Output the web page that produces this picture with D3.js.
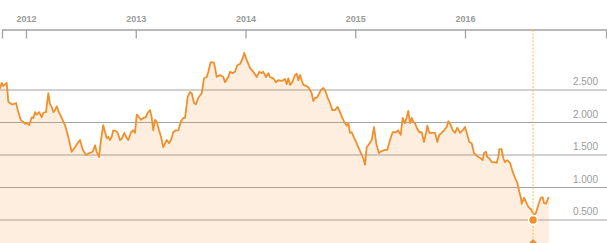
<!DOCTYPE html>
<html>
<head>
<meta charset="utf-8">
<script src="https://cdn.jsdelivr.net/npm/d3@7"></script>
<style>
  html, body { margin: 0; padding: 0; background: #fff; }
  #chart { width: 607px; height: 243px; overflow: hidden; }
</style>
</head>
<body>
<div id="chart"></div>
<script>
// time as decimal years
const years = [
  2011.763, 2011.779, 2011.793, 2011.809, 2011.824, 2011.839, 2011.870, 2011.884,
  2011.909, 2011.930, 2011.952, 2011.975, 2011.991, 2012.006, 2012.030, 2012.052,
  2012.067, 2012.082, 2012.097, 2012.121, 2012.143, 2012.158, 2012.182, 2012.203,
  2012.219, 2012.234, 2012.249, 2012.264, 2012.280, 2012.294, 2012.325, 2012.355,
  2012.385, 2012.416, 2012.446, 2012.477, 2012.492, 2012.517, 2012.547, 2012.577,
  2012.608, 2012.629, 2012.644, 2012.665, 2012.683, 2012.704, 2012.720, 2012.735,
  2012.750, 2012.765, 2012.781, 2012.795, 2012.817, 2012.836, 2012.856, 2012.872,
  2012.896, 2012.918, 2012.932, 2012.957, 2012.978, 2012.993, 2013.009, 2013.030,
  2013.048, 2013.069, 2013.091, 2013.109, 2013.130, 2013.145, 2013.160, 2013.175,
  2013.191, 2013.212, 2013.230, 2013.251, 2013.267, 2013.282, 2013.303, 2013.321,
  2013.342, 2013.364, 2013.388, 2013.412, 2013.433, 2013.449, 2013.473, 2013.494,
  2013.510, 2013.531, 2013.549, 2013.570, 2013.601, 2013.622, 2013.647, 2013.661,
  2013.683, 2013.713, 2013.738, 2013.768, 2013.798, 2013.813, 2013.843, 2013.859,
  2013.883, 2013.904, 2013.925, 2013.950, 2013.975, 2013.989, 2014.011, 2014.041,
  2014.071, 2014.102, 2014.126, 2014.148, 2014.162, 2014.187, 2014.208, 2014.223,
  2014.253, 2014.278, 2014.299, 2014.330, 2014.360, 2014.375, 2014.390, 2014.405,
  2014.426, 2014.451, 2014.467, 2014.481, 2014.497, 2014.512, 2014.527, 2014.558,
  2014.579, 2014.603, 2014.618, 2014.633, 2014.649, 2014.663, 2014.688, 2014.709,
  2014.724, 2014.749, 2014.770, 2014.791, 2014.815, 2014.840, 2014.861, 2014.882,
  2014.900, 2014.922, 2014.937, 2014.952, 2014.968, 2014.991, 2015.013, 2015.028,
  2015.052, 2015.073, 2015.089, 2015.104, 2015.119, 2015.150, 2015.171, 2015.192,
  2015.216, 2015.241, 2015.271, 2015.292, 2015.317, 2015.341, 2015.371, 2015.392,
  2015.414, 2015.432, 2015.453, 2015.469, 2015.483, 2015.499, 2015.514, 2015.529,
  2015.544, 2015.560, 2015.584, 2015.606, 2015.626, 2015.645, 2015.657, 2015.675,
  2015.697, 2015.727, 2015.748, 2015.766, 2015.788, 2015.809, 2015.833, 2015.848,
  2015.870, 2015.888, 2015.909, 2015.930, 2015.954, 2015.979, 2016.000, 2016.021,
  2016.039, 2016.061, 2016.082, 2016.100, 2016.121, 2016.143, 2016.161, 2016.173,
  2016.191, 2016.203, 2016.221, 2016.243, 2016.264, 2016.289, 2016.303, 2016.313,
  2016.334, 2016.349, 2016.364, 2016.385, 2016.410, 2016.435, 2016.456, 2016.477,
  2016.495, 2016.508, 2016.517, 2016.538, 2016.556, 2016.577, 2016.599, 2016.617,
  2016.629, 2016.647, 2016.668, 2016.690, 2016.708, 2016.720, 2016.738, 2016.759,
  2016.765
];

const values = [
  2.52, 2.61, 2.56, 2.59, 2.61, 2.32, 2.28, 2.28,
  2.30, 2.16, 2.04, 2.01, 1.98, 1.99, 1.96, 2.08,
  2.07, 2.16, 2.12, 2.16, 2.08, 2.15, 2.16, 2.45,
  2.28, 2.24, 2.16, 2.19, 2.25, 2.18, 2.07, 1.96,
  1.78, 1.55, 1.62, 1.70, 1.73, 1.58, 1.50, 1.53,
  1.55, 1.65, 1.55, 1.47, 1.73, 1.96, 1.85, 1.76,
  1.78, 1.73, 1.78, 1.88, 1.87, 1.84, 1.73, 1.75,
  1.84, 1.76, 1.73, 1.85, 1.88, 1.84, 2.12, 2.08,
  2.04, 2.07, 2.08, 2.15, 2.19, 2.08, 1.88, 2.04,
  2.01, 1.88, 1.78, 1.62, 1.68, 1.73, 1.68, 1.73,
  1.85, 1.88, 1.88, 2.02, 2.07, 2.07, 2.39, 2.47,
  2.45, 2.30, 2.28, 2.38, 2.45, 2.68, 2.70, 2.78,
  2.93, 2.92, 2.70, 2.73, 2.70, 2.62, 2.70, 2.78,
  2.76, 2.78, 2.88, 2.90, 2.99, 3.07, 2.96, 2.84,
  2.78, 2.70, 2.78, 2.76, 2.78, 2.70, 2.76, 2.70,
  2.68, 2.62, 2.65, 2.64, 2.67, 2.59, 2.68, 2.58,
  2.62, 2.73, 2.75, 2.65, 2.73, 2.65, 2.58, 2.56,
  2.53, 2.45, 2.33, 2.38, 2.38, 2.42, 2.50, 2.53,
  2.50, 2.38, 2.30, 2.19, 2.19, 2.24, 2.16, 2.07,
  2.01, 1.95, 1.99, 1.84, 1.85, 1.76, 1.68, 1.62,
  1.53, 1.45, 1.35, 1.62, 1.65, 1.73, 1.93, 1.67,
  1.53, 1.56, 1.58, 1.58, 1.73, 1.85, 1.85, 1.88,
  1.81, 2.07, 1.99, 2.08, 2.18, 1.99, 2.07, 2.01,
  1.99, 1.92, 1.85, 1.85, 1.70, 1.84, 1.95, 1.84,
  1.84, 1.84, 1.70, 1.81, 1.84, 1.88, 1.93, 2.02,
  1.96, 1.88, 1.84, 1.92, 1.84, 1.88, 1.93, 1.81,
  1.70, 1.68, 1.53, 1.50, 1.47, 1.45, 1.42, 1.53,
  1.55, 1.47, 1.45, 1.39, 1.39, 1.38, 1.47, 1.59,
  1.59, 1.45, 1.39, 1.42, 1.38, 1.24, 1.15, 1.07,
  0.93, 0.85, 0.75, 0.84, 0.78, 0.70, 0.67, 0.61,
  0.58, 0.61, 0.73, 0.84, 0.85, 0.76, 0.75, 0.84,
  0.85
];

const yearTicks = [2012, 2013, 2014, 2015, 2016];
const valueTicks = [0.5, 1.0, 1.5, 2.0, 2.5];

// hover marker (dotted guide, dot and diamond)
const markerYear = [2016.620];
const markerValue = [0.5];

const option = {
  width: 607,
  height: 243,
  lineColor: '#f0902c',
  gridColor: '#a3a3a3',
  textColor: '#9a9a9a'
};

const data = years.map((t, i) => ({t: t, v: values[i]}));

const svg = d3.select('#chart')
    .append('svg')
    .attr('width', option.width)
    .attr('height', option.height)
    .style('font-family', '"Liberation Sans", Arial, sans-serif');

// scales
const x = d3.scaleLinear()
    .domain([2011.7813, 2017.2847])
    .range([2, 606]);

const y = d3.scaleLinear()
    .domain([0, 3.5])
    .range([252.5, 25]);

// horizontal grid lines
svg.append('g')
    .selectAll('line')
    .data(valueTicks)
    .enter()
    .append('line')
    .attr('x1', 0)
    .attr('x2', option.width)
    .attr('y1', (d) => y(d))
    .attr('y2', (d) => y(d))
    .attr('stroke', option.gridColor)
    .attr('stroke-width', 1.2);

// value labels, sitting above their grid line on the right
svg.append('g')
    .selectAll('text')
    .data(valueTicks)
    .enter()
    .append('text')
    .attr('x', 598)
    .attr('y', (d) => y(d) - 5)
    .attr('text-anchor', 'end')
    .attr('fill', option.textColor)
    .style('font-size', '10px')
    .text((d) => d3.format('.3f')(d));

// area under the line
const area = d3.area()
    .x((d) => x(d.t))
    .y0(y(0))
    .y1((d) => y(d.v));

svg.append('path')
    .datum(data)
    .attr('d', area)
    .attr('fill', option.lineColor)
    .attr('fill-opacity', 0.15);

// top axis: line with ticks hanging down, labels above
const axis = svg.append('g')
    .attr('transform', 'translate(0,29.5)')
    .call(d3.axisBottom(x)
        .tickValues(yearTicks)
        .tickSize(9)
        .tickSizeOuter(9)
        .tickFormat(d3.format('d')));

axis.select('.domain')
    .attr('stroke', option.gridColor)
    .attr('stroke-width', 1.3);
axis.selectAll('.tick line')
    .attr('stroke', option.gridColor)
    .attr('stroke-width', 1.3);
axis.selectAll('.tick text')
    .attr('y', -8)
    .attr('dy', 0)
    .attr('fill', option.textColor)
    .style('font-size', '9px')
    .style('font-weight', 'bold')
    .style('font-family', '"Liberation Sans", Arial, sans-serif');

// the line itself
const line = d3.line()
    .x((d) => x(d.t))
    .y((d) => y(d.v));

svg.append('path')
    .datum(data)
    .attr('d', line)
    .attr('fill', 'none')
    .attr('stroke', option.lineColor)
    .attr('stroke-width', 1.8)
    .attr('stroke-linejoin', 'round');

// hover guide
const mx = x(markerYear[0]);
svg.append('line')
    .attr('x1', mx)
    .attr('x2', mx)
    .attr('y1', 30)
    .attr('y2', option.height)
    .attr('stroke', '#f6bd5a')
    .attr('stroke-width', 1)
    .attr('stroke-dasharray', '2,1.5');

svg.append('circle')
    .attr('cx', mx)
    .attr('cy', y(markerValue[0]))
    .attr('r', 4.5)
    .attr('fill', option.lineColor)
    .attr('stroke', '#fff')
    .attr('stroke-width', 1.5);

svg.append('path')
    .attr('d', d3.symbol().type(d3.symbolDiamond2).size(160)())
    .attr('transform', `translate(${mx},247)`)
    .attr('fill', option.lineColor);
</script>
</body>
</html>
